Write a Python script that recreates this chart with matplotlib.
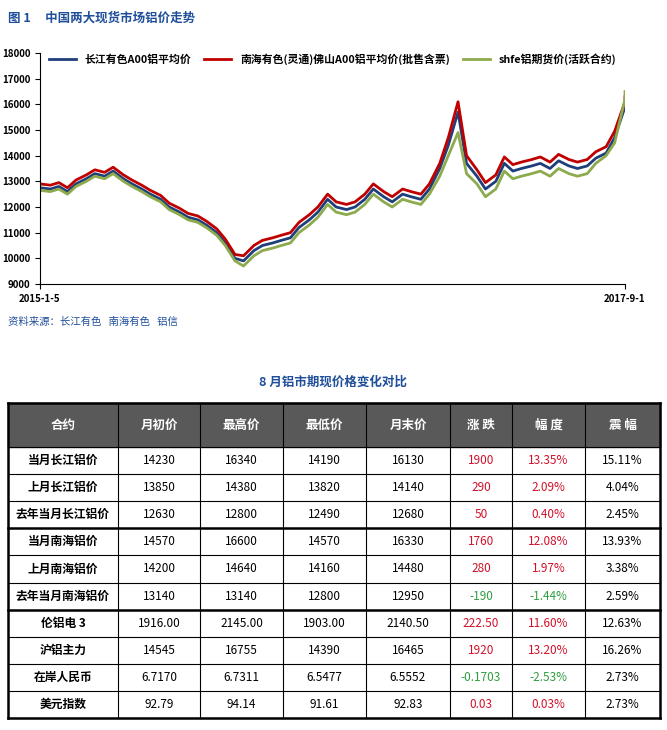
import numpy as np
import pandas as pd
import matplotlib
matplotlib.use("Agg")
import matplotlib.pyplot as plt

plt.rcParams["font.family"] = ["Noto Sans CJK SC", "DejaVu Sans"]

dates = pd.date_range("2015-01-05", periods=64, freq="SMS").tolist() + [pd.Timestamp("2017-09-01")]

changjiang = [12750, 12700, 12800, 12600, 12900, 13100, 13300, 13200, 13400, 13100, 12900, 12700,
              12500, 12300, 12000, 11800, 11600, 11500, 11300, 11000, 10600, 10000, 9900, 10300,
              10500, 10600, 10700, 10800, 11200, 11500, 11800, 12300, 12000, 11900, 12000, 12300,
              12700, 12400, 12200, 12500, 12400, 12300, 12700, 13500, 14400, 15700, 13700, 13200,
              12700, 13000, 13700, 13400, 13500, 13600, 13700, 13500, 13800, 13600, 13500, 13600,
              13900, 14100, 14700, 15900, 16100]
nanhai = [12900, 12850, 12950, 12750, 13050, 13250, 13450, 13350, 13550, 13250, 13050, 12850,
          12650, 12450, 12150, 11950, 11750, 11650, 11450, 11150, 10750, 10150, 10100, 10500,
          10700, 10800, 10900, 11000, 11400, 11700, 12000, 12500, 12200, 12100, 12200, 12500,
          12900, 12600, 12400, 12700, 12600, 12500, 12900, 13700, 14700, 16100, 14000, 13450,
          12950, 13250, 13950, 13650, 13750, 13850, 13950, 13750, 14050, 13850, 13750, 13850,
          14150, 14350, 14950, 16100, 16300]
shfe = [12650, 12600, 12700, 12500, 12800, 13000, 13200, 13100, 13300, 13000, 12800, 12600,
        12400, 12200, 11900, 11700, 11500, 11400, 11200, 10900, 10500, 9900, 9700, 10100,
        10300, 10400, 10500, 10600, 11000, 11300, 11600, 12100, 11800, 11700, 11800, 12100,
        12500, 12200, 12000, 12300, 12200, 12100, 12500, 13200, 14000, 14900, 13300, 12900,
        12400, 12700, 13400, 13100, 13200, 13300, 13400, 13200, 13500, 13300, 13200, 13300,
        13700, 14000, 14500, 16200, 16500]

header = ["合约", "月初价", "最高价", "最低价", "月末价", "涨 跌", "幅 度", "震 幅"]
names = ["当月长江铝价", "上月长江铝价", "去年当月长江铝价", "当月南海铝价", "上月南海铝价",
         "去年当月南海铝价", "伦铝电 3", "沪铝主力", "在岸人民币", "美元指数"]
open_p = ["14230", "13850", "12630", "14570", "14200", "13140", "1916.00", "14545", "6.7170", "92.79"]
high_p = ["16340", "14380", "12800", "16600", "14640", "13140", "2145.00", "16755", "6.7311", "94.14"]
low_p = ["14190", "13820", "12490", "14570", "14160", "12800", "1903.00", "14390", "6.5477", "91.61"]
close_p = ["16130", "14140", "12680", "16330", "14480", "12950", "2140.50", "16465", "6.5552", "92.83"]
change = ["1900", "290", "50", "1760", "280", "-190", "222.50", "1920", "-0.1703", "0.03"]
pct = ["13.35%", "2.09%", "0.40%", "12.08%", "1.97%", "-1.44%", "11.60%", "13.20%", "-2.53%", "0.03%"]
amp = ["15.11%", "4.04%", "2.45%", "13.93%", "3.38%", "2.59%", "12.63%", "16.26%", "2.73%", "2.73%"]

fig = plt.figure(figsize=(6.67, 7.3), dpi=100)
page = fig.add_axes([0, 0, 1, 1])
page.set_xlim(0, 667)
page.set_ylim(730, 0)
page.axis("off")

blue = "#1F4E9A"
page.text(8, 18, "图 1     中国两大现货市场铝价走势", color=blue, fontsize=9, fontweight="bold", va="center")
page.text(8, 322, "资料来源：长江有色   南海有色   铝信", color=blue, fontsize=7.5, style="italic", va="center")
page.text(333, 382, "8 月铝市期现价格变化对比", color=blue, fontsize=9, fontweight="bold", va="center", ha="center")

ax = fig.add_axes([40 / 667, 1 - 284 / 730, 585 / 667, 231 / 730])
ax.plot(dates, changjiang, color="#1F3F7A", lw=2, label="长江有色A00铝平均价")
ax.plot(dates, nanhai, color="#C00000", lw=2, label="南海有色(灵通)佛山A00铝平均价(批售含票)")
ax.plot(dates, shfe, color="#8DAA4C", lw=2, label="shfe铝期货价(活跃合约)")
ax.set_ylim(9000, 18000)
ax.set_yticks(range(9000, 18001, 1000))
ax.set_xlim(dates[0], dates[-1])
ax.set_xticks([dates[0], dates[-1]])
ax.set_xticklabels(["2015-1-5", "2017-9-1"], fontweight="bold", fontsize=7)
ax.tick_params(axis="y", labelsize=7)
for lab in ax.get_yticklabels():
    lab.set_fontweight("bold")
for s in ["top", "right"]:
    ax.spines[s].set_visible(False)
ax.legend(loc="upper center", ncol=3, frameon=False, handlelength=2.5,
          columnspacing=1.2, bbox_to_anchor=(0.5, 1.04), prop={"weight": "bold", "size": 7.8})

# table
xs = [8, 118, 200, 283, 366, 450, 512, 585, 660]
ys = [403, 447] + [447 + 27.1 * (i + 1) for i in range(10)]
page.add_patch(plt.Rectangle((xs[0], ys[0]), xs[-1] - xs[0], ys[1] - ys[0], color="#595959"))
for j, h in enumerate(header):
    page.text((xs[j] + xs[j + 1]) / 2, (ys[0] + ys[1]) / 2, h, color="white", fontsize=9,
              fontweight="bold", ha="center", va="center")
cols = [names, open_p, high_p, low_p, close_p, change, pct, amp]
for i in range(10):
    yc = (ys[i + 1] + ys[i + 2]) / 2
    for j, col in enumerate(cols):
        v = col[i]
        c = "black"
        if j in (5, 6):
            c = "#2E9E3E" if v.startswith("-") else "#D0112B"
        page.text((xs[j] + xs[j + 1]) / 2, yc, v, fontsize=8.5, ha="center", va="center", color=c,
                  fontweight="bold" if j == 0 else "normal")
for k, y in enumerate(ys):
    lw = 1.8 if k in (0, 4, 7, 11) else 0.8
    page.plot([xs[0], xs[-1]], [y, y], color="black", lw=lw)
for k, x in enumerate(xs):
    lw = 1.8 if k in (0, 8) else 0.8
    page.plot([x, x], [ys[0], ys[-1]], color="black", lw=lw)

fig.savefig("out.png", dpi=100)
